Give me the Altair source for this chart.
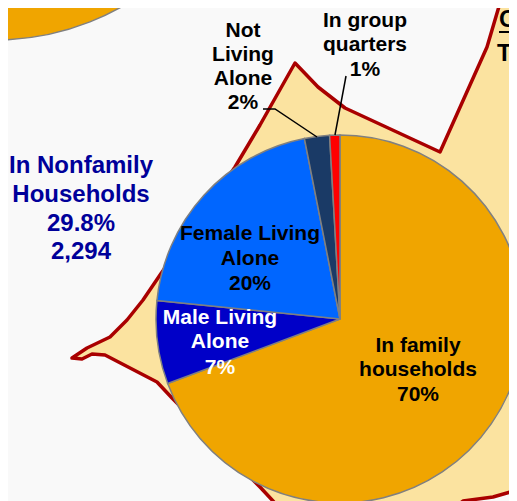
import altair as alt
import pandas as pd

W, H = 501, 493
FONT = "Liberation Sans"

# pie slices (percent of population)
slices = ["In family households", "Male Living Alone", "Female Living Alone", "Not Living Alone", "In group quarters"]
shares = [69.3, 7.3, 20.3, 2.2, 0.9]
slice_colors = ["#f0a500", "#0000c8", "#0066ff", "#1a3a66", "#ff0000"]

# outline of the map shape behind the pie
map_x = [235, 260, 295, 318, 345, 440, 487, 500, 503, 530, 530, 517, 493, 463, 440, 290, 273, 260, 172, 157,
         105, 92, 82, 72, 87, 110, 127, 143, 160, 235]
map_y = [167, 125, 63, 87, 108, 152, 47, 3, -10, -10, 488, 490, 497, 501, 520, 520, 501, 487, 398, 382,
         355, 354, 359, 358, 348, 337, 320, 300, 275, 167]

# headline block at the left
head_text = ["In Nonfamily", "Households", "29.8%", "2,294"]
head_x = [81, 81, 81, 81]
head_y = [166, 195, 224, 252]

# slice labels
lab_text = ["Not", "Living", "Alone", "2%",
            "In group", "quarters", "1%",
            "Female Living", "Alone", "20%",
            "Male Living", "Alone", "7%",
            "In family", "households", "70%"]
lab_x = [243, 243, 243, 243, 365, 365, 365, 250, 250, 250, 220, 220, 220, 418, 418, 418]
lab_y = [31, 55, 79, 103, 21, 45, 70, 234, 259, 284, 318, 342, 368, 346, 370, 395]
lab_col = ["#000000"] * 10 + ["#ffffff"] * 3 + ["#000000"] * 3

# leader lines
lead_id = ["a", "a", "a", "b", "b"]
lead_x = [263, 275, 317, 346, 335]
lead_y = [109, 109, 137, 76, 135]

sx = alt.Scale(domain=[8, 509], range=[0, W])
sy = alt.Scale(domain=[8, 501], range=[0, H])
X = lambda f: alt.X(f, type="quantitative", scale=sx, axis=None)
Y = lambda f: alt.Y(f, type="quantitative", scale=sy, axis=None)

# map
ring = [[float(a), float(b)] for a, b in zip(map_x, map_y)]
geo = alt.Data(values=[{"type": "Feature", "properties": {}, "geometry": {"type": "Polygon", "coordinates": [ring]}}])
shape = alt.Chart(geo).mark_geoshape(fill="#fbe3a0", stroke="#a90000", strokeWidth=3.5, strokeJoin="round", clip=True).project(
    type="identity", scale=1, translate=[-8, -8])

# pies
ends = pd.Series(shares).cumsum()
pie_df = pd.DataFrame({
    "name": slices, "start": ends - pd.Series(shares), "end": ends, "color": slice_colors,
    "cx": 340, "cy": 319, "r": 184})
big_df = pd.DataFrame({"name": ["In family households"], "start": [0], "end": [100], "color": ["#f0a500"],
                       "cx": [-5], "cy": [-218], "r": [258]})
theta_scale = alt.Scale(domain=[0, 100], range=[0, 6.283185])


def pie(df):
    return alt.Chart(df).mark_arc(stroke="#808080", strokeWidth=1.5, clip=True).encode(
        x=X("cx"), y=Y("cy"),
        theta=alt.Theta("start:Q", scale=theta_scale),
        theta2="end:Q",
        radius=alt.Radius("r:Q", scale=None),
        fill=alt.Fill("color:N", scale=None))


# leaders
lead_df = pd.DataFrame({"id": lead_id, "x": lead_x, "y": lead_y, "k": range(len(lead_x))})
leaders = alt.Chart(lead_df).mark_line(color="#000000", strokeWidth=1.5).encode(
    x=X("x"), y=Y("y"), detail="id:N", order="k:Q")

# text
head_df = pd.DataFrame({"t": head_text, "x": head_x, "y": head_y})
heads = alt.Chart(head_df).mark_text(font=FONT, fontWeight="bold", fontSize=24, baseline="middle", align="center", color="#00009a").encode(
    x=X("x"), y=Y("y"), text="t:N")

lab_df = pd.DataFrame({"t": lab_text, "x": lab_x, "y": lab_y, "c": lab_col})
labels = alt.Chart(lab_df).mark_text(font=FONT, fontWeight="bold", fontSize=21, baseline="middle", align="center").encode(
    x=X("x"), y=Y("y"), text="t:N", color=alt.Color("c:N", scale=None))

edge_df = pd.DataFrame({"t": ["C", "T"], "x": [499, 497], "y": [20, 54]})
edge = alt.Chart(edge_df).mark_text(font=FONT, fontWeight="bold", fontSize=24, baseline="middle", align="left", color="#000000").encode(
    x=X("x"), y=Y("y"), text="t:N")
rule_df = pd.DataFrame({"x": [499], "x2": [509], "y": [32]})
under = alt.Chart(rule_df).mark_rule(color="#000000", strokeWidth=2).encode(x=X("x"), x2="x2:Q", y=Y("y"))

chart = alt.layer(shape, pie(big_df), pie(pie_df), leaders, heads, labels, edge, under).properties(
    width=W, height=H, background="#f9f9f9", padding=0,
    autosize=alt.AutoSizeParams(type="none", contains="padding")
).configure_view(stroke=None)

chart.save("out.html", embed_options={"renderer": "svg", "actions": False})
